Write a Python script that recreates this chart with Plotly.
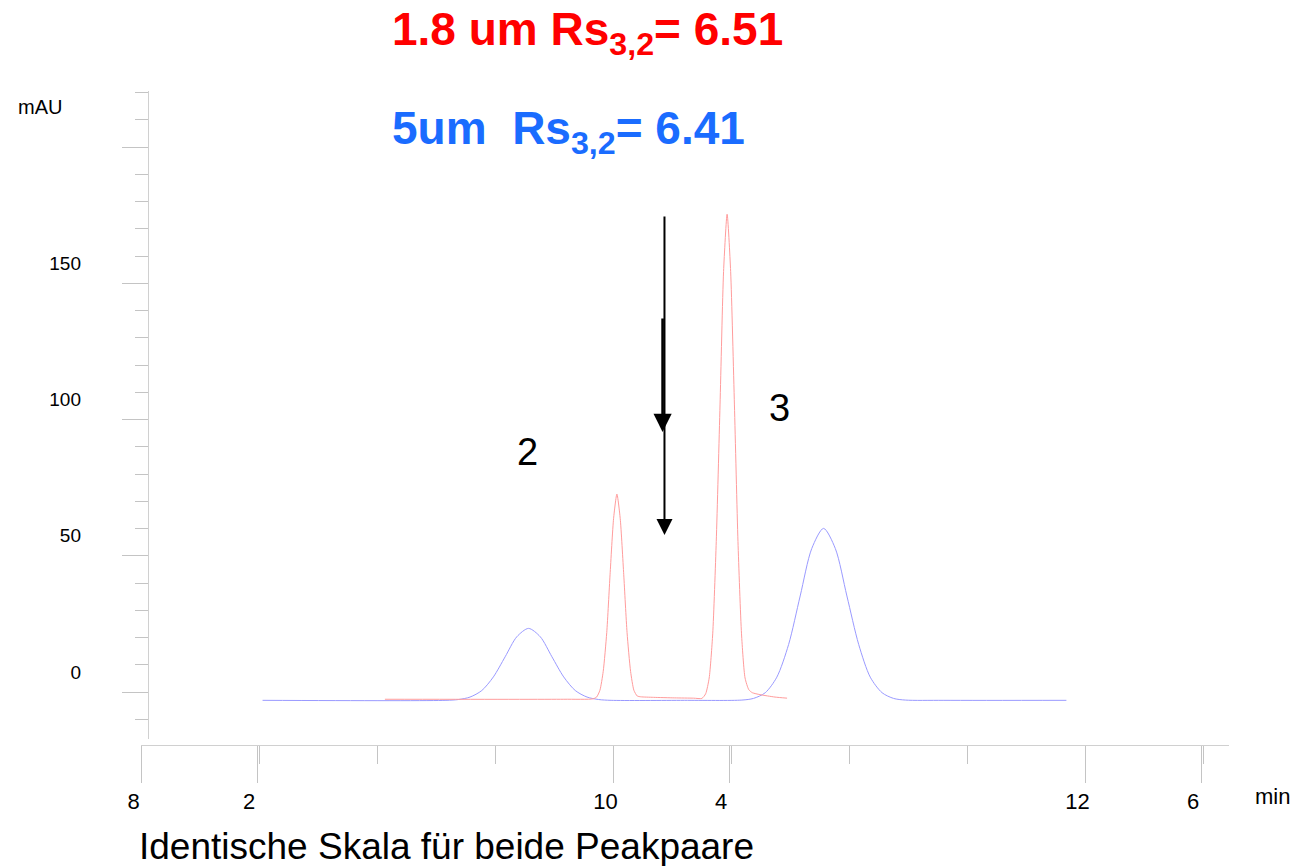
import plotly.graph_objects as go

W, H = 1306, 866

# ---------------- data ----------------
# 5 um column (blue), time in min on the 8..12 scale, signal in mAU
blue_t = [8.513, 9.29, 9.343, 9.392, 9.442, 9.491, 9.541, 9.590, 9.640, 9.690, 9.739,
          9.789, 9.838, 9.888, 9.937, 9.99, 10.30, 10.544, 10.593, 10.643, 10.692,
          10.742, 10.791, 10.840, 10.890, 10.940, 10.989, 11.039, 11.088, 11.138,
          11.187, 11.237, 11.40, 11.919]
blue_v = [-10.4, -10.4, -10.1, -9.2, -6.8, -1.8, 5.6, 12.9, 16.0, 12.9, 5.6,
          -1.8, -6.8, -9.2, -10.1, -10.4, -10.4, -10.3, -9.7, -7.6, -1.9,
          10.1, 27.9, 45.3, 52.7, 45.3, 27.9, 10.1, -1.9, -7.6,
          -9.7, -10.3, -10.4, -10.4]

# 1.8 um column (red), time in min on the 2..6 scale, signal in mAU
red_t = [2.542, 3.30, 3.424, 3.439, 3.453, 3.467, 3.482, 3.496, 3.511, 3.525, 3.539,
         3.554, 3.568, 3.583, 3.597, 3.611, 3.626, 3.68, 3.77, 3.85, 3.885, 3.901,
         3.916, 3.931, 3.946, 3.962, 3.977, 3.992, 4.007, 4.023, 4.038, 4.053,
         4.068, 4.084, 4.099, 4.131, 4.195, 4.246]
red_v = [-10.0, -10.0, -9.85, -9.2, -6.7, 0.2, 14.5, 35.7, 56.4, 65.3, 56.4,
         35.7, 14.5, 0.2, -6.7, -8.8, -9.1, -9.3, -9.5, -9.6, -9.7, -8.0,
         -2.2, 14.0, 47.9, 98.0, 147.0, 168.0, 147.0, 98.0, 47.9, 14.0,
         -2.2, -6.5, -7.6, -8.3, -9.2, -9.6]

# axis tick labels
y_ticks = [0, 50, 100, 150]
x_blue_ticks = [8, 10, 12]
x_red_ticks = [2, 4, 6]

# annotations text
title_red = "1.8 um Rs<sub>3,2</sub>= 6.51"
title_blue = "5um\u00a0 Rs<sub>3,2</sub>= 6.41"
caption = "Identische Skala für beide Peakpaare"
peak_labels = ["2", "3"]
peak_label_t = [9.636, 10.703]
peak_label_v = [80.7, 96.9]

FONT = "Liberation Sans, Arial, sans-serif"
BLUE_TXT = "#1a6cff"
RED_TXT = "#ff0000"

fig = go.Figure()
fig.add_trace(go.Scatter(x=blue_t, y=blue_v, mode="lines", xaxis="x", yaxis="y",
                         line=dict(color="#9a9aff", width=1, shape="spline", smoothing=0.8),
                         hoverinfo="skip", showlegend=False))
fig.add_trace(go.Scatter(x=red_t, y=red_v, mode="lines", xaxis="x2", yaxis="y",
                         line=dict(color="#ff9c9c", width=1, shape="spline", smoothing=0.6),
                         hoverinfo="skip", showlegend=False))
# carrier trace for the tick-mark axis
fig.add_trace(go.Scatter(x=[None], y=[None], xaxis="x", yaxis="y2", mode="lines",
                         hoverinfo="skip", showlegend=False))

px = lambda p: p / W
py = lambda p: 1 - p / H

x_dom = [px(141), px(1229)]
y_dom = [py(739), py(91)]

# scales: 236 px per minute
xb_range = [8 + (141 - 141.5) / 236, 8 + (1229 - 141.5) / 236]
xr_range = [2 + (141 - 257) / 236, 2 + (1229 - 257) / 236]
ppu = 2.725
ylab_range = [(672 - 739) / ppu, (672 - 91) / ppu]
ytick_range = [(692 - 739) / ppu, (692 - 91) / ppu]

axis_col = "#d0d0d0"
tick_col = "#c4c4c4"

fig.update_layout(
    width=W, height=H, autosize=False,
    margin=dict(l=0, r=0, t=0, b=0, autoexpand=False),
    paper_bgcolor="white", plot_bgcolor="white",
    font=dict(family=FONT, color="black"),
    xaxis=dict(domain=x_dom, range=xb_range, anchor="free", position=py(745),
               automargin=False,
               showline=True, linecolor=axis_col, linewidth=1,
               showgrid=False, zeroline=False,
               tickmode="array", tickvals=x_blue_ticks, ticktext=[str(v) for v in x_blue_ticks],
               ticks="outside", ticklen=37, tickwidth=1, tickcolor=tick_col,
               minor=dict(ticks="outside", dtick=0.5, tick0=8, ticklen=18,
                          tickwidth=1, tickcolor=tick_col, showgrid=False),
               tickfont=dict(size=22, family=FONT), ticklabelshift=-8),
    xaxis2=dict(overlaying="x", range=xr_range, anchor="free", position=py(745), side="bottom",
                automargin=False,
                showline=False, showgrid=False, zeroline=False,
                tickmode="array", tickvals=x_red_ticks, ticktext=[str(v) for v in x_red_ticks],
                ticks="outside", ticklen=37, tickwidth=1, tickcolor=tick_col,
                tickfont=dict(size=22, family=FONT), ticklabelshift=-8),
    yaxis=dict(domain=y_dom, range=ylab_range, anchor="free", position=px(148),
               automargin=False,
               showline=False, showgrid=False, zeroline=False, ticks="",
               tickmode="array", tickvals=y_ticks, ticktext=[str(v) for v in y_ticks],
               tickfont=dict(size=19, family=FONT), ticklabelstandoff=67),
    yaxis2=dict(overlaying="y", range=ytick_range, anchor="free", position=px(148),
                automargin=False,
                showline=True, linecolor=axis_col, linewidth=1,
                showgrid=False, zeroline=False, showticklabels=False,
                tickmode="linear", tick0=0, dtick=50,
                ticks="outside", ticklen=26, tickwidth=1, tickcolor=tick_col,
                minor=dict(ticks="outside", dtick=10, tick0=0, ticklen=13,
                           tickwidth=1, tickcolor=tick_col, showgrid=False)),
)

ann = []
ann.append(dict(text=title_red, xref="paper", yref="paper", x=px(390), y=py(32),
                xanchor="left", yanchor="middle", showarrow=False,
                font=dict(size=46, color=RED_TXT, family=FONT, weight="bold")))
ann.append(dict(text=title_blue, xref="paper", yref="paper", x=px(390), y=py(131),
                xanchor="left", yanchor="middle", showarrow=False,
                font=dict(size=46, color=BLUE_TXT, family=FONT, weight="bold")))
ann.append(dict(text=caption, xref="paper", yref="paper", x=px(137), y=py(846),
                xanchor="left", yanchor="middle", showarrow=False,
                font=dict(size=37, color="black", family=FONT)))
ann.append(dict(text="mAU", xref="paper", yref="paper", x=px(40), y=py(107),
                xanchor="center", yanchor="middle", showarrow=False,
                font=dict(size=20, color="black", family=FONT)))
ann.append(dict(text="min", xref="paper", yref="paper", x=px(1272), y=py(796),
                xanchor="center", yanchor="middle", showarrow=False,
                font=dict(size=22, color="black", family=FONT)))
for lab, t, v in zip(peak_labels, peak_label_t, peak_label_v):
    ann.append(dict(text=lab, xref="x", yref="y", x=t, y=v, showarrow=False,
                    xanchor="center", yanchor="middle",
                    font=dict(size=38, color="black", family=FONT)))
# arrows (data coordinates on the blue time scale)
ann.append(dict(text="", xref="x", yref="y", x=10.216, y=50.3,
                axref="x", ayref="y", ax=10.216, ay=167.7,
                showarrow=True, arrowhead=2, arrowsize=1.6, arrowwidth=2, arrowcolor="black"))
ann.append(dict(text="", xref="x", yref="y", x=10.208, y=88.1,
                axref="x", ayref="y", ax=10.208, ay=130.3,
                showarrow=True, arrowhead=2, arrowsize=1.4, arrowwidth=2.6, arrowcolor="black"))
fig.update_layout(annotations=ann)

fig.write_html("out.html")
